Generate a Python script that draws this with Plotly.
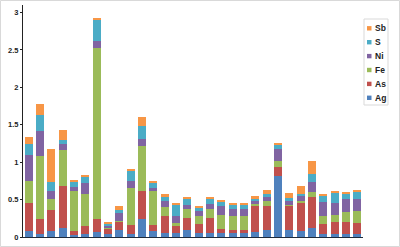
import plotly.graph_objects as go

samples = [str(i) for i in range(1, 31)]
series_names = ["Ag", "As", "Fe", "Ni", "S", "Sb"]
colors = ["#4F81BD", "#C0504D", "#9BBB59", "#8064A2", "#4BACC6", "#F79646"]

ag = [0.08, 0.04, 0.075, 0.115, 0.03, 0.04, 0.067, 0.04, 0.09, 0.045,
      0.24, 0.075, 0.053, 0.06, 0.09, 0.06, 0.053, 0.053, 0.053, 0.053,
      0.07, 0.10, 0.82, 0.10, 0.085, 0.12, 0.04, 0.04, 0.04, 0.04]
as_ = [0.38, 0.20, 0.285, 0.565, 0.054, 0.11, 0.173, 0.067, 0.12, 0.11,
       0.37, 0.08, 0.222, 0.09, 0.16, 0.12, 0.197, 0.054, 0.047, 0.047,
       0.34, 0.31, 0.11, 0.32, 0.375, 0.41, 0.14, 0.16, 0.16, 0.15]
fe = [0.29, 0.84, 0.15, 0.48, 0.526, 0.43, 2.29, 0.013, 0.01, 0.505,
      0.61, 0.465, 0.12, 0.04, 0.12, 0.10, 0.13, 0.193, 0.18, 0.18,
      0.03, 0.065, 0.08, 0.01, 0.015, 0.065, 0.10, 0.09, 0.13, 0.16]
ni = [0.35, 0.34, 0.10, 0.08, 0.06, 0.14, 0.09, 0.04, 0.10, 0.09,
      0.09, 0.04, 0.08, 0.085, 0.06, 0.07, 0.06, 0.12, 0.10, 0.09,
      0.04, 0.065, 0.16, 0.045, 0.08, 0.135, 0.185, 0.17, 0.18, 0.16]
s = [0.14, 0.21, 0.12, 0.05, 0.07, 0.08, 0.28, 0.02, 0.04, 0.14,
     0.17, 0.07, 0.055, 0.155, 0.08, 0.05, 0.07, 0.05, 0.05, 0.06,
     0.03, 0.04, 0.06, 0.04, 0.015, 0.11, 0.09, 0.135, 0.07, 0.10]
sb = [0.09, 0.15, 0.45, 0.14, 0.01, 0.03, 0.02, 0.02, 0.06, 0.02,
      0.13, 0.005, 0.05, 0.02, 0.02, 0.02, 0.02, 0.02, 0.02, 0.02,
      0.04, 0.05, 0.02, 0.075, 0.105, 0.17, 0.015, 0.015, 0.02, 0.015]

y_tick_vals = [0, 0.5, 1, 1.5, 2, 2.5, 3]
y_tick_text = ["0", "0.5", "1", "1.5", "2", "2.5", "3"]

series_values = [ag, as_, fe, ni, s, sb]

W, H = 400, 247
ML, MR, MT, MB = 23, 37, 5, 10
PW, PH = W - ML - MR, H - MT - MB


def px2x(px):
    return (px - ML) / PW


def px2y(py):
    return (H - MB - py) / PH


FONT = "Liberation Sans, Arial, sans-serif"

fig = go.Figure()
for name, vals, col in zip(series_names, series_values, colors):
    fig.add_trace(go.Bar(x=samples, y=vals, name=name, marker_color=col,
                         marker_line_width=0, showlegend=False))

shapes = []
annotations = []
# figure border
shapes.append(dict(type="rect", xref="paper", yref="paper",
                   x0=px2x(0.5), x1=px2x(W - 0.5), y0=px2y(H - 0.5), y1=px2y(0.5),
                   line=dict(color="#d9d9d9", width=1), fillcolor="rgba(0,0,0,0)",
                   layer="below"))
# custom legend box
shapes.append(dict(type="rect", xref="paper", yref="paper",
                   x0=px2x(364), x1=px2x(388), y0=px2y(105), y1=px2y(19),
                   line=dict(color="#d9d9d9", width=1), fillcolor="white"))
leg_top = 28.3
leg_step = 13.9
for i, (name, col) in enumerate(reversed(list(zip(series_names, colors)))):
    cy = leg_top + i * leg_step
    shapes.append(dict(type="rect", xref="paper", yref="paper",
                       x0=px2x(367), x1=px2x(371.5), y0=px2y(cy + 2.2), y1=px2y(cy - 2.2),
                       line=dict(width=0), fillcolor=col))
    annotations.append(dict(xref="paper", yref="paper", x=px2x(373), y=px2y(cy),
                            xanchor="left", yanchor="middle", showarrow=False,
                            text="<b>%s</b>" % name,
                            font=dict(family=FONT, size=8.5, color="#222222")))

fig.update_layout(
    width=W, height=H,
    margin=dict(l=ML, r=MR, t=MT, b=MB, pad=0),
    barmode="stack", bargap=0.27,
    plot_bgcolor="white", paper_bgcolor="white",
    showlegend=False,
    shapes=shapes, annotations=annotations,
    font=dict(family=FONT, size=8, color="#222222"),
)
fig.update_xaxes(showticklabels=False, ticks="", showgrid=False, zeroline=False,
                 showline=True, linecolor="#1f2a3a", linewidth=1,
                 range=[-0.5, len(samples) - 0.5])
fig.update_yaxes(range=[0, 3.1], tickvals=y_tick_vals, ticktext=["<b>%s</b>" % t for t in y_tick_text],
                 tickfont=dict(family=FONT, size=7.5, color="#222222"),
                 showgrid=False, zeroline=False, showline=True, linecolor="#222222",
                 linewidth=1, ticks="outside", ticklen=2, tickcolor="#222222")

fig.write_html("out.html")
